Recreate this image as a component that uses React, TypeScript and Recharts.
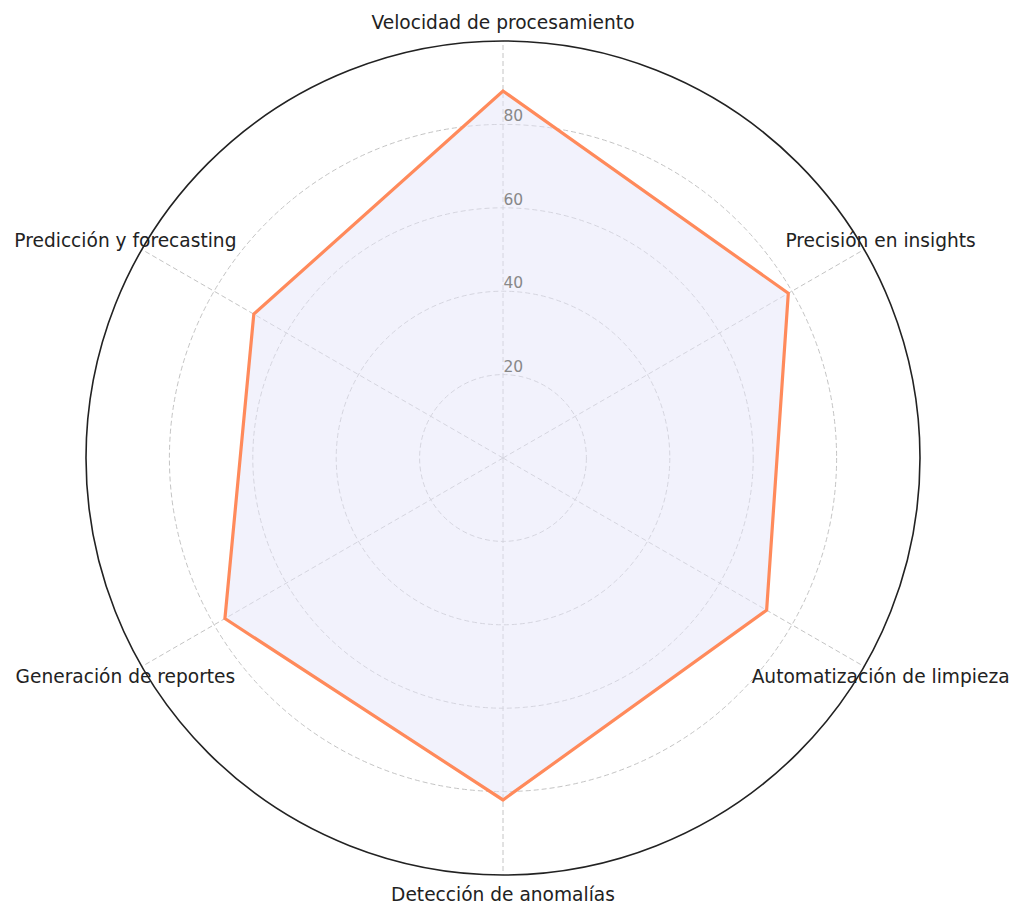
import { PolarAngleAxis, PolarGrid, PolarRadiusAxis, Radar, RadarChart } from 'recharts'

const categories = [
  'Velocidad de procesamiento',
  'Precisión en insights',
  'Automatización de limpieza',
  'Detección de anomalías',
  'Generación de reportes',
  'Predicción y forecasting',
]
const scores = [88, 79, 73, 82, 77, 69]
const radiusTicks = [20, 40, 60, 80]

const data = categories.map((name, i) => ({ name, score: scores[i] }))

const CX = 503
const CY = 458
const OUTER = 417
const LABEL_R = 436

function AngleTick(props: any) {
  const { index, payload } = props
  const deg = 90 - index * 60
  const rad = (deg * Math.PI) / 180
  const x = CX + LABEL_R * Math.cos(rad)
  const y = CY - LABEL_R * Math.sin(rad)
  return (
    <text
      x={x}
      y={y}
      textAnchor="middle"
      dominantBaseline="central"
      fontSize={18.6}
      fill="#222"
      fontFamily="DejaVu Sans"
    >
      {payload.value}
    </text>
  )
}

function RadiusTick(props: any) {
  const { x, y, payload } = props
  return (
    <text x={x + 0.5} y={y - 8} textAnchor="start" dominantBaseline="central" fontSize={15.5} fill="#888" fontFamily="DejaVu Sans">
      {payload.value}
    </text>
  )
}

export default function App() {
  const ringRadii = radiusTicks.map((t) => (t / 100) * OUTER)
  return (
    <div style={{ position: 'absolute', left: 0, top: 0, background: '#fff' }}>
      <RadarChart width={1024} height={917} data={data} cx={CX} cy={CY} outerRadius={OUTER} margin={{ top: 0, right: 0, bottom: 0, left: 0 }}>
        <PolarGrid gridType="circle" polarRadius={ringRadii} stroke="#c4c4c4" strokeDasharray="5 3" />
        <PolarGrid gridType="circle" polarRadius={[OUTER]} radialLines={false} stroke="#222" strokeWidth={1.6} />
        <PolarAngleAxis dataKey="name" tick={<AngleTick />} tickLine={false} axisLine={false} />
        <PolarRadiusAxis angle={90} domain={[0, 100]} ticks={radiusTicks} tick={<RadiusTick />} axisLine={false} tickLine={false} />
        <Radar
          dataKey="score"
          stroke="#ff8a5b"
          strokeWidth={3.2}
          fill="#e6e6fa"
          fillOpacity={0.5}
          isAnimationActive={false}
        />
      </RadarChart>
    </div>
  )
}
